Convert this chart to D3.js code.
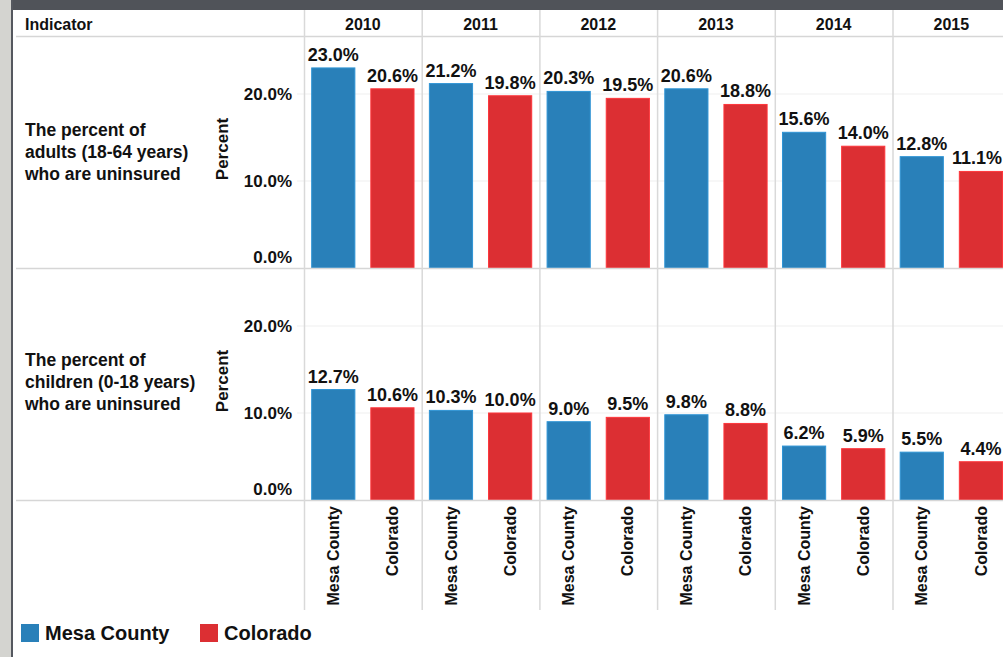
<!DOCTYPE html>
<html><head><meta charset="utf-8">
<script src="https://cdn.jsdelivr.net/npm/d3@7"></script>
<style>
html,body{margin:0;padding:0;background:#fff;overflow:hidden}
svg{display:block;font-family:"Liberation Sans",Arial,sans-serif}
</style></head>
<body><svg id="c" width="1003" height="657"></svg>
<script>
const years = ["2010","2011","2012","2013","2014","2015"];
const groups = ["Mesa County","Colorado"];
const adultsMesa = [23.0,21.2,20.3,20.6,15.6,12.8];
const adultsColorado = [20.6,19.8,19.5,18.8,14.0,11.1];
const childrenMesa = [12.7,10.3,9.0,9.8,6.2,5.5];
const childrenColorado = [10.6,10.0,9.5,8.8,5.9,4.4];
const rowLabels = [
  ["The percent of","adults (18-64 years)","who are uninsured"],
  ["The percent of","children (0-18 years)","who are uninsured"]
];
const tickValues = [0,10,20];
const colors = ["#2980b9","#dc2f33"];

const rows = [
  {label: rowLabels[0], series:[adultsMesa, adultsColorado]},
  {label: rowLabels[1], series:[childrenMesa, childrenColorado]}
];

const svg = d3.select("#c");
const W = 1003, H = 657;
const headerTop = 10, headerBottom = 36, paneH = 232;
const colStart = 304, colW = 117.7;
const labelAreaBottom = 610;

// chrome
svg.append("rect").attr("x",0).attr("y",0).attr("width",11).attr("height",H).attr("fill","#d4d4d0");
svg.append("rect").attr("x",11).attr("y",0).attr("width",W-11).attr("height",10).attr("fill","#505359");
svg.append("rect").attr("x",11).attr("y",0).attr("width",2).attr("height",H).attr("fill","#55585f");

const x0 = d3.scaleBand().domain(years).range([colStart, colStart + colW*years.length]);
const x1 = d3.scaleBand().domain(groups).range([0, x0.bandwidth()]).paddingInner(0.27).paddingOuter(0.13);
const y = d3.scaleLinear().domain([0, 26.67]).range([paneH, 0]);

// header
svg.append("text").attr("x",25).attr("y",headerBottom-6).text("Indicator")
  .attr("font-size",16).attr("font-weight","bold").attr("fill","#111");
svg.selectAll("text.year").data(years).enter().append("text").attr("class","year")
  .attr("x", d => x0(d) + x0.bandwidth()/2).attr("y", headerBottom-6)
  .attr("text-anchor","middle").attr("font-size",16).attr("font-weight","bold").attr("fill","#111")
  .text(d => d);

rows.forEach((row, ri) => {
  const top = headerBottom + ri*paneH;
  const g = svg.append("g").attr("transform", `translate(0,${top})`);
  // gridlines
  g.selectAll("line.grid").data(tickValues.filter(v => v>0)).enter().append("line")
    .attr("x1",297).attr("x2",W).attr("y1", d => y(d)).attr("y2", d => y(d))
    .attr("stroke","#efefef").attr("stroke-width",1);
  // axis
  const ax = g.append("g").attr("transform","translate(297,0)")
    .call(d3.axisLeft(y).tickValues(tickValues).tickSize(0).tickPadding(5).tickFormat(d => d.toFixed(1)+"%"));
  ax.select(".domain").remove();
  ax.selectAll("text").attr("font-size",17).attr("font-weight","bold").attr("fill","#111")
    .attr("font-family","Liberation Sans, Arial, sans-serif")
    .attr("dy", d => d === 0 ? "-0.35em" : "0.32em");
  // axis title
  g.append("text").attr("transform", `translate(228,${paneH/2 - 3}) rotate(-90)`)
    .attr("text-anchor","middle").attr("font-size",17).attr("font-weight","bold").attr("fill","#111")
    .text("Percent");
  // row label
  g.append("text").attr("x",25).attr("y", paneH/2 - 16 - ri*2)
    .attr("font-size",17.5).attr("font-weight","bold").attr("fill","#111")
    .selectAll("tspan").data(row.label).enter().append("tspan")
    .attr("x",25).attr("dy",(d,i)=> i===0?0:22).text(d => d);
  // bars
  years.forEach((yr, yi) => {
    groups.forEach((gr, gi) => {
      const v = row.series[gi][yi];
      const bx = x0(yr) + x1(gr);
      g.append("rect").attr("x", bx).attr("y", y(v)).attr("width", x1.bandwidth())
        .attr("height", paneH - y(v)).attr("fill", colors[gi])
        .attr("stroke", d3.color(colors[gi]).brighter(0.4)).attr("stroke-width",1);
      const t = g.append("text").attr("x", bx + x1.bandwidth()/2).attr("y", y(v) - 7)
        .attr("text-anchor","middle").attr("font-size",18).attr("font-weight","bold").attr("fill","#111")
        .text(v.toFixed(1) + "%");
      const tw = t.node().getComputedTextLength();
      const cx = Math.min(bx + x1.bandwidth()/2, W - tw/2 - 1);
      t.attr("x", cx);
    });
  });
  // pane bottom line
  svg.append("line").attr("x1",16).attr("x2",W).attr("y1", top+paneH+0.5).attr("y2", top+paneH+0.5)
    .attr("stroke","#d6d6d6").attr("stroke-width",1.5);
});

// header bottom line
svg.append("line").attr("x1",16).attr("x2",W).attr("y1",headerBottom+0.5).attr("y2",headerBottom+0.5)
  .attr("stroke","#d6d6d6").attr("stroke-width",1.5);

// column separators
svg.selectAll("line.col").data(years).enter().append("line")
  .attr("x1", d => x0(d)+0.5).attr("x2", d => x0(d)+0.5)
  .attr("y1", headerTop).attr("y2", labelAreaBottom)
  .attr("stroke","#d9d9d9").attr("stroke-width",1.5);

// category labels
const labelTop = headerBottom + 2*paneH + 6;
years.forEach(yr => {
  groups.forEach(gr => {
    const cx = x0(yr) + x1(gr) + x1.bandwidth()/2;
    svg.append("text").attr("transform", `translate(${cx},${labelTop}) rotate(-90)`)
      .attr("text-anchor","end").attr("dy","0.35em")
      .attr("font-size",16).attr("font-weight","bold").attr("fill","#111").text(gr);
  });
});

// legend
const lg = svg.append("g").attr("transform","translate(21,624)");
let lx = 0;
groups.forEach((gr, gi) => {
  lg.append("rect").attr("x", lx).attr("y",0).attr("width",18).attr("height",18).attr("fill",colors[gi]);
  lg.append("text").attr("x", lx+24).attr("y",16).attr("font-size",20).attr("font-weight","bold")
    .attr("fill","#111").text(gr);
  lx = 179;
});
</script></body></html>
